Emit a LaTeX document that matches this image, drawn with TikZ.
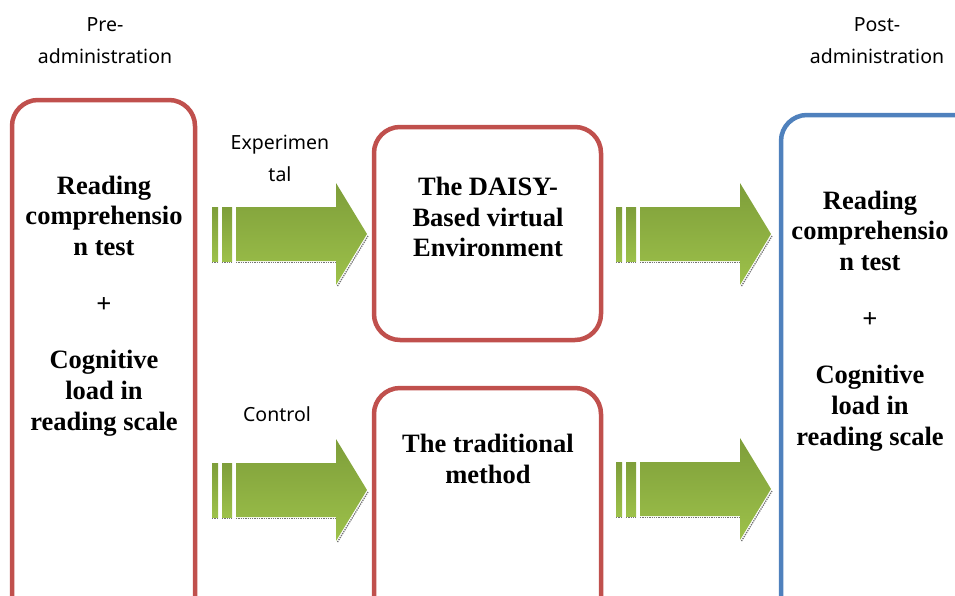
\documentclass[tikz,border=0pt]{standalone}
\usepackage{fontspec}
\setmainfont{Liberation Serif}
\newfontfamily\labelfont{Noto Sans}
\begin{document}
\definecolor{boxred}{RGB}{192,80,77}
\definecolor{boxblue}{RGB}{79,129,189}
\definecolor{greentop}{RGB}{126,158,58}
\definecolor{greenbot}{RGB}{157,193,74}
\tikzset{
  stagebox/.style={draw=#1, line width=4.5pt, rounded corners=26pt},
  boldtext/.style={font=\bfseries\fontsize{26.5}{30.7}\selectfont, align=center},
  smalllabel/.style={font=\labelfont\fontsize{19.5}{32}\selectfont, align=center},
  greenfill/.style={top color=greentop, bottom color=greenbot, draw=none},
  shadowline/.style={draw=black!55, densely dotted, line width=1.3pt},
  blockarrow/.pic={
    % two thin bars followed by the block arrow itself
    \shade[greenfill] (0,-27) rectangle (6,27);
    \shade[greenfill] (10,-27) rectangle (20,27);
    \shade[greenfill] (24,-27) -- (124,-27) -- (124,-51) -- (155,0)
                       -- (124,51) -- (124,27) -- (24,27) -- cycle;
    \draw[shadowline] (0,28.5) -- (6,28.5) (10,28.5) -- (20,28.5)
                      (24,28.5) -- (124,28.5);
    \draw[shadowline] (125.5,52) -- (156,2);
  }
}
\begin{tikzpicture}[x=1pt, y=-1pt]
\useasboundingbox (0,0) rectangle (955,595);
\clip (0,0) rectangle (955,595);

% stage boxes
\draw[stagebox=boxred] (12,100) rectangle (195,640);
\draw[stagebox=boxred] (374,127) rectangle (601,340);
\draw[stagebox=boxred] (374,388) rectangle (601,640);
\draw[stagebox=boxblue] (781,115) rectangle (990,640);

% box texts
\node[boldtext] (pre) at (104,306) {Reading\\comprehensio\\n test\\[26pt]+\\[26pt]Cognitive\\load in\\reading scale};
\node[boldtext] (daisy) at (488,217) {The DAISY-\\Based virtual\\Environment};
\node[boldtext] (trad) at (488,459) {The traditional\\method};
\node[boldtext] (post) at (870,321) {Reading\\comprehensio\\n test\\[26pt]+\\[26pt]Cognitive\\load in\\reading scale};

% labels
\node[smalllabel] (prelab) at (105,41) {Pre-\\administration};
\node[smalllabel] (postlab) at (877,41) {Post-\\administration};
\node[smalllabel] (explab) at (280,158) {Experimen\\tal};
\node[smalllabel] (ctrllab) at (277,414) {Control};

% arrows between stages
\pic at (212,234) {blockarrow};
\pic at (212,490) {blockarrow};
\pic at (616,234) {blockarrow};
\pic at (616,489) {blockarrow};
\end{tikzpicture}
\end{document}
